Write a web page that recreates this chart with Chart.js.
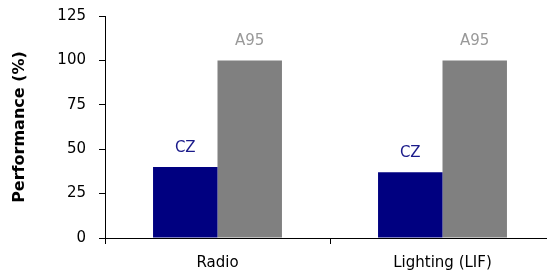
<!DOCTYPE html>
<html><head><meta charset="utf-8">
<script src="https://cdn.jsdelivr.net/npm/chart.js@4/dist/chart.umd.min.js"></script>
<style>html,body{margin:0;padding:0;background:#fff;overflow:hidden}#wrap{width:547px;height:276px;overflow:hidden}</style>
</head><body><div id="wrap"><canvas id="c" width="555" height="276"></canvas></div>
<script>
const categories = ["Radio", "Lighting (LIF)"];
const czValues = [40, 37];
const a95Values = [100, 100];
const seriesNames = ["CZ", "A95"];
const yTicks = [0, 25, 50, 75, 100, 125];

const FONT = "'DejaVu Sans', sans-serif";

const labelPlugin = {
  id: 'barLabels',
  afterDatasetsDraw(chart) {
    const ctx = chart.ctx;
    ctx.save();
    ctx.font = "15px " + FONT;
    ctx.textAlign = 'center';
    ctx.textBaseline = 'alphabetic';
    chart.data.datasets.forEach((ds, i) => {
      const meta = chart.getDatasetMeta(i);
      meta.data.forEach(el => {
        ctx.fillStyle = ds.labelColor;
        ctx.fillText(ds.label, el.x, el.y - 15);
      });
    });
    ctx.restore();
  }
};

new Chart(document.getElementById('c'), {
  type: 'bar',
  data: {
    labels: categories,
    datasets: [
      { label: seriesNames[0], data: czValues, backgroundColor: '#000080', labelColor: '#1a1a8a' },
      { label: seriesNames[1], data: a95Values, backgroundColor: '#808080', labelColor: '#999999' }
    ]
  },
  options: {
    responsive: false,
    animation: false,
    devicePixelRatio: 1,
    layout: { padding: { top: 16, right: 0, left: 0, bottom: 0 } },
    plugins: { legend: { display: false }, tooltip: { enabled: false } },
    datasets: { bar: { categoryPercentage: 0.573, barPercentage: 1.0 } },
    scales: {
      x: {
        offset: true,
        grid: { display: true, drawOnChartArea: false, color: '#000', tickLength: 6, offset: true },
        border: { color: '#000', width: 1 },
        ticks: { color: '#000', font: { family: FONT, size: 15 }, padding: 10 },
        afterFit(s) { s.height = 38; s.paddingLeft = 0; s.paddingRight = 0; }
      },
      y: {
        min: 0, max: 125,
        afterBuildTicks(s) { s.ticks = yTicks.map(v => ({ value: v })); },
        grid: { display: true, drawOnChartArea: false, color: '#000', tickLength: 6 },
        border: { color: '#000', width: 1 },
        ticks: { color: '#000', font: { family: FONT, size: 15 }, padding: 13 },
        title: { display: true, text: 'Performance (%)', color: '#000', font: { family: FONT, size: 16, weight: 'bold' }, padding: { top: 10, bottom: 0 } },
        afterFit(s) { s.width = 105; s.paddingTop = 0; s.paddingBottom = 0; }
      }
    }
  },
  plugins: [labelPlugin]
});
</script>
</body></html>
